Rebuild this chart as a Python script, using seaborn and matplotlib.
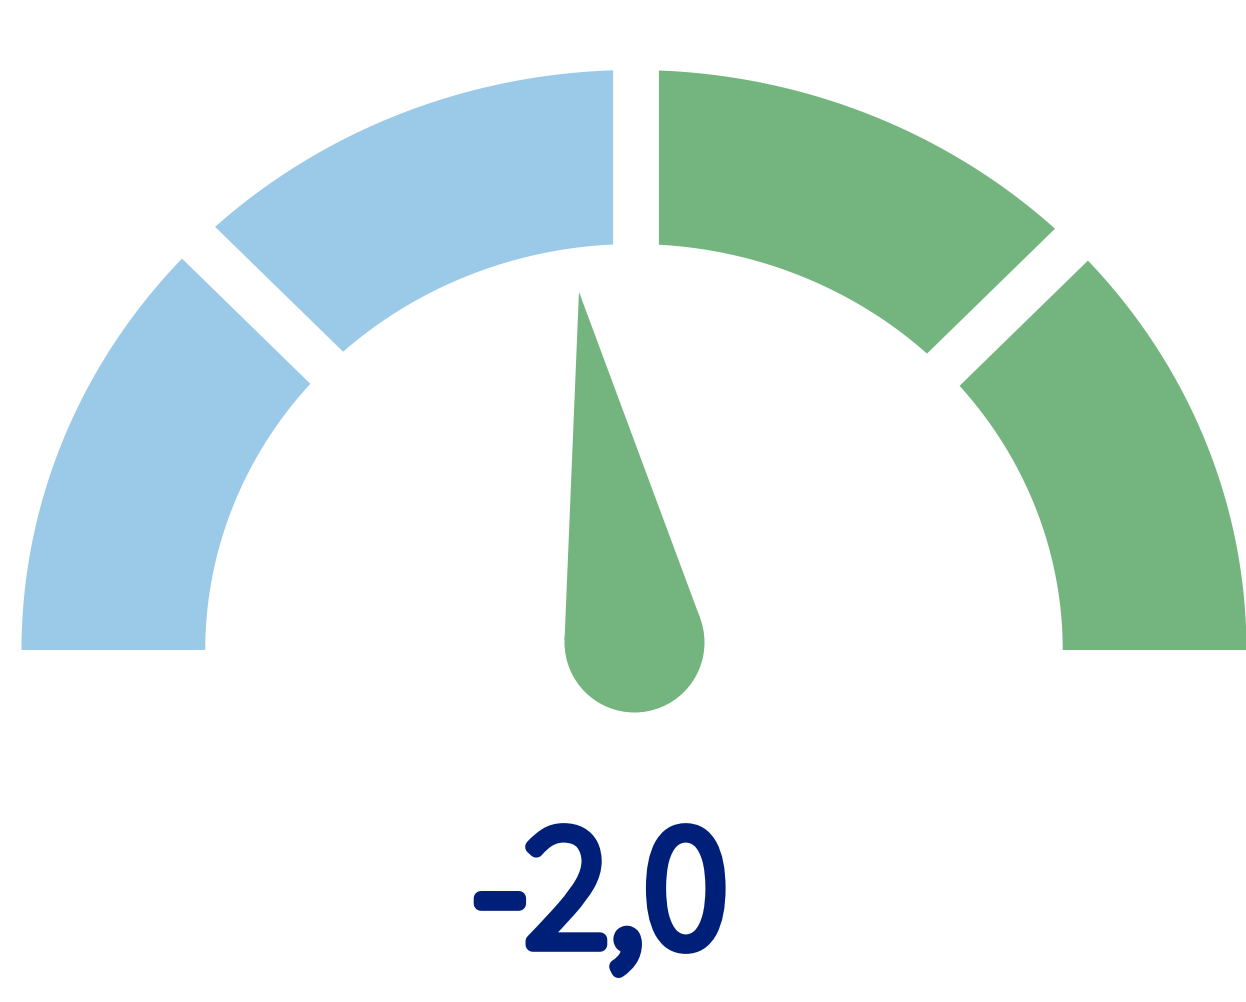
import numpy as np
import matplotlib
matplotlib.use("Agg")
import matplotlib.pyplot as plt
import matplotlib.patheffects as pe
import seaborn as sns
from matplotlib.patches import Polygon, Circle

# gauge data
bounds = [-20, -10, 0, 10, 20]
seg_colors = ["#9ACAE8", "#9ACAE8", "#73B47F", "#73B47F"]
value = -2.0
label = "-2,0"
needle_color = "#73B47F"
text_color = "#001F78"

sns.set_style("white")
plt.rcParams["font.family"] = ["Source Sans 3", "Source Sans Pro", "Open Sans", "DejaVu Sans"]

fig = plt.figure(figsize=(12.46, 10.02), dpi=100)
ax = fig.add_axes([0, 0, 1, 1])
ax.set_xlim(-634, 612)
ax.set_ylim(-352, 650)
ax.axis("off")

r_out, r_in, stretch = 580, 406, 1.056
vmin, vmax = bounds[0], bounds[-1]


def to_angle(v):
    return np.pi - (v - vmin) / (vmax - vmin) * np.pi


# segments
for lo, hi, c in zip(bounds[:-1], bounds[1:], seg_colors):
    t = np.linspace(to_angle(lo), to_angle(hi), 200)
    outer = np.column_stack([stretch * r_out * np.cos(t), r_out * np.sin(t)])
    inner = np.column_stack([stretch * r_in * np.cos(t), r_in * np.sin(t)])[::-1]
    ax.add_patch(Polygon(np.vstack([outer, inner]), closed=True, fc=c, ec="none", zorder=1))

# white gaps between segments
gap_stretch = 1.025
origin = np.array([2, -19.5])
for b in bounds[1:-1]:
    a = to_angle(b)
    d = np.array([gap_stretch * np.cos(a), np.sin(a)])
    d = d / np.hypot(*d)
    start = origin + 300 * d
    end = origin + 750 * d
    ax.plot([start[0], end[0]], [start[1], end[1]],
            color="white", lw=33, solid_capstyle="butt", zorder=2)

# needle
hub = np.array([0.5, 7.5])
hub_r, length = 70, 355
a = to_angle(value)
tip = hub + length * np.array([np.cos(a), np.sin(a)])
off = np.arccos(hub_r / length)
p1 = hub + hub_r * np.array([np.cos(a + off), np.sin(a + off)])
p2 = hub + hub_r * np.array([np.cos(a - off), np.sin(a - off)])
ax.add_patch(Polygon([tip, p1, p2], closed=True, fc=needle_color, ec="none", zorder=3))
ax.add_patch(Circle(hub, hub_r, fc=needle_color, ec="none", zorder=3))

# value label (stroke thickens the light face to match the bold look)
ax.text(-33.5, -294.5, label, ha="center", va="baseline", fontsize=126,
        fontweight="bold", color=text_color, zorder=4,
        path_effects=[pe.withStroke(linewidth=10.5, foreground=text_color)])

fig.savefig("out.png", dpi=100)
